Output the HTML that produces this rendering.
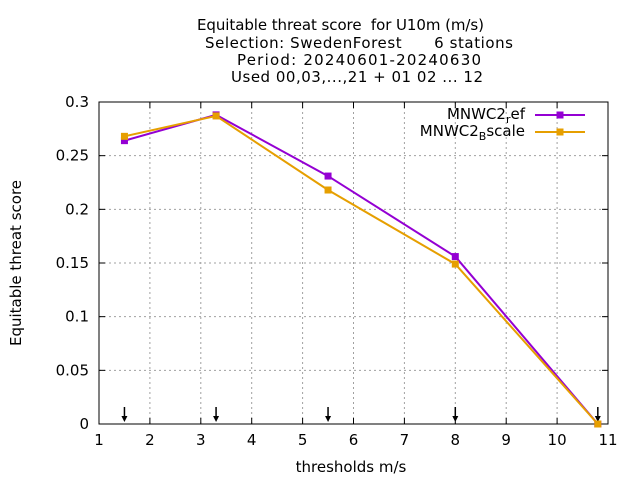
<!DOCTYPE html>
<html><head><meta charset="utf-8"><style>
body{margin:0;background:#fff;}
svg{display:block;font-family:"DejaVu Sans","Liberation Sans",sans-serif;}
text{white-space:pre;}
</style></head><body>
<svg id="chart" width="640" height="480">
<g font-size="15" fill="#000">
<text x="197" y="30" textLength="287" xml:space="preserve">Equitable threat score  for U10m (m/s)</text>
<text x="205" y="48" textLength="308" xml:space="preserve">Selection: SwedenForest      6 stations</text>
<text x="237" y="65" textLength="244">Period: 20240601-20240630</text>
<text x="231" y="82" textLength="252">Used 00,03,...,21 + 01 02 ... 12</text>
</g>
<g id="grid"></g>
<g id="axes"></g>
<g id="series"></g>
<text x="351" y="472" font-size="15" text-anchor="middle">thresholds m/s</text>
<text transform="translate(21,263) rotate(-90)" font-size="15" text-anchor="middle">Equitable threat score</text>
<g id="legend">
<text x="525" y="119" font-size="15" text-anchor="end">MNWC2<tspan font-size="11" dy="4">r</tspan><tspan dy="-4">ef</tspan></text>
<line x1="535" y1="115" x2="585" y2="115" stroke="#9400d3" stroke-width="2"/>
<rect x="556.5" y="111.5" width="7" height="7" fill="#9400d3"/>
<text x="525" y="136" font-size="15" text-anchor="end">MNWC2<tspan font-size="11" dy="4">B</tspan><tspan dy="-4">scale</tspan></text>
<line x1="535" y1="132" x2="585" y2="132" stroke="#e69f00" stroke-width="2"/>
<rect x="556.5" y="128.5" width="7" height="7" fill="#e69f00"/>
</g>
</svg>
<script>
const thresholds=[1.5,3.3,5.5,8,10.8];
const refValues=[0.264,0.288,0.231,0.156,0.0];
const bscaleValues=[0.268,0.287,0.218,0.149,0.0];
const xTicks=[1,2,3,4,5,6,7,8,9,10,11];
const yTicks=[0,0.05,0.1,0.15,0.2,0.25,0.3];
const yTickLabels=["0","0.05","0.1","0.15","0.2","0.25","0.3"];
const L=99,R=608,T=102,B=424;
const xs=v=>L+(v-1)/10*(R-L);
const ys=v=>B-v/0.3*(B-T);
const NS="http://www.w3.org/2000/svg";
function mk(tag,attrs,parent){const e=document.createElementNS(NS,tag);for(const k in attrs)e.setAttribute(k,attrs[k]);parent.appendChild(e);return e;}
const grid=document.getElementById('grid'),axes=document.getElementById('axes'),ser=document.getElementById('series');
xTicks.forEach(t=>{const x=xs(t);
 if(t>1&&t<11){const g=mk('line',{x1:x,y1:T,x2:x,y2:B,stroke:'#a0a0a0','stroke-dasharray':'2,3'},grid);
 }
 mk('line',{x1:x,y1:B,x2:x,y2:B-6,stroke:'#000'},axes);mk('line',{x1:x,y1:T,x2:x,y2:T+6,stroke:'#000'},axes);
 const tx=mk('text',{x:x,y:B+21,'font-size':15,'text-anchor':'middle'},axes);tx.textContent=t;
 });
yTicks.forEach((t,i)=>{const y=ys(t);
 if(i>0&&i<yTicks.length-1){const g=mk('line',{x1:L,y1:y,x2:R,y2:y,stroke:'#a0a0a0','stroke-dasharray':'2,3'},grid);
 }
 mk('line',{x1:L,y1:y,x2:L+6,y2:y,stroke:'#000'},axes);mk('line',{x1:R,y1:y,x2:R-6,y2:y,stroke:'#000'},axes);
 const tx=mk('text',{x:L-10,y:y+5,'font-size':15,'text-anchor':'end'},axes);tx.textContent=yTickLabels[i];
 });
mk('rect',{x:L,y:T,width:R-L,height:B-T,fill:'none',stroke:'#000','stroke-width':1},axes);
thresholds.forEach(t=>{const x=xs(t);
 const a=mk('g',{},axes);
 mk('line',{x1:x,y1:407,x2:x,y2:419,stroke:'#000','stroke-width':1.5},a);
 mk('path',{d:`M${x-3},416 L${x+3},416 L${x},422 Z`,fill:'#000'},a);});
function drawSeries(vals,color,name){
 const g=mk('g',{},ser);
 mk('polyline',{points:thresholds.map((t,i)=>xs(t)+','+ys(vals[i])).join(' '),fill:'none',stroke:color,'stroke-width':2},g);
 thresholds.forEach((t,i)=>{const p=mk('rect',{x:xs(t)-3.5,y:ys(vals[i])-3.5,width:7,height:7,fill:color},g);
 });}
drawSeries(refValues,'#9400d3','series-mnwc2-ref');
drawSeries(bscaleValues,'#e69f00','series-mnwc2-bscale');
</script>
</body></html>
